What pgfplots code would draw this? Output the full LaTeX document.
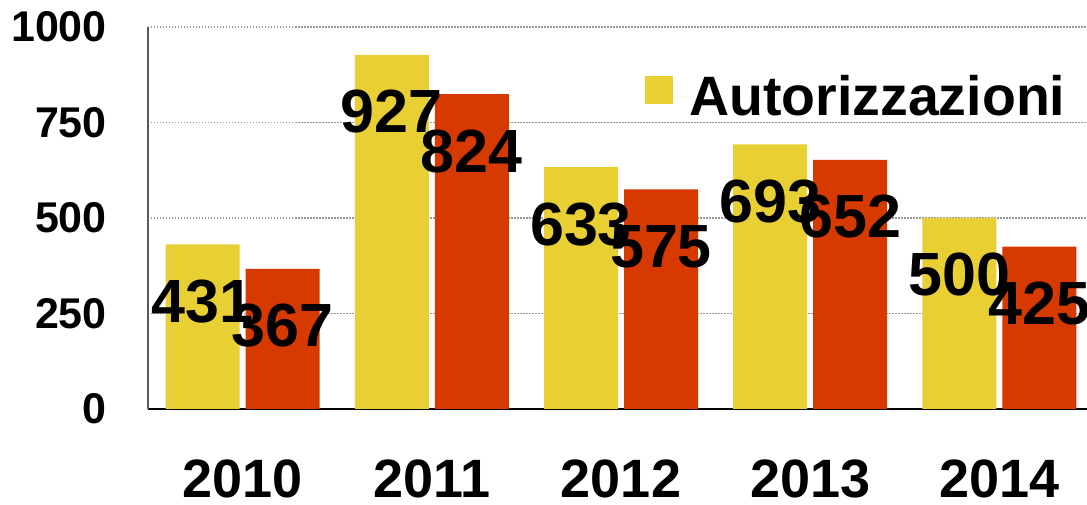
\documentclass[border=0pt]{standalone}
\usepackage{fontspec}
\setmainfont{Liberation Sans}
\usepackage{pgfplots}
\pgfplotsset{compat=1.18}
\definecolor{cyel}{RGB}{232,208,52}
\definecolor{cred}{RGB}{214,58,0}
\begin{document}
\begin{tikzpicture}[x=1pt,y=1pt]
\path[use as bounding box] (-148,-96) rectangle (939,409);
\begin{axis}[
  at={(0,0)}, anchor=south west,
  scale only axis, width=946pt, height=382pt,
  clip=false,
  ybar=6pt, bar width=74pt,
  xmin=-0.5, xmax=4.5, ymin=0, ymax=1000,
  xtick={0,1,2,3,4}, xticklabels={2010,2011,2012,2013,2014},
  ytick={0,250,500,750,1000},
  /pgf/number format/1000 sep={},
  major tick length=0pt,
  axis x line*=bottom, axis y line*=left,
  x axis line style={-, black, line width=1.5pt},
  y axis line style={-, black!65, line width=1.5pt},
  ymajorgrids,
  major grid style={black!40, line width=1.2pt, dash pattern=on 1.5pt off 1.5pt},
  /pgf/number format/assume math mode=true,
  yticklabel style={font=\fontsize{43}{43}\selectfont\bfseries, anchor=east, inner sep=0pt, xshift=-41pt},
  xticklabel style={font=\fontsize{54}{54}\selectfont\bfseries, anchor=north, inner sep=0pt, yshift=-51pt},
  nodes near coords,
  nodes near coords style={font=\fontsize{61}{61}\selectfont\bfseries, anchor=center, inner sep=0pt, yshift=-57pt, text=black},
  legend style={at={(0.5254,0.819)}, anchor=west, draw=none, fill=none, inner sep=0pt,
    font=\fontsize{55.5}{55.5}\selectfont\bfseries},
  legend image code/.code={\fill[#1] (0pt,-8pt) rectangle (28pt,20pt); \path (0pt,0pt) -- (42pt,0pt);},
]
\addplot[fill=cyel, draw=none] coordinates {(0,431) (1,927) (2,633) (3,693) (4,500)};
\addlegendentry{Autorizzazioni}
\addplot[fill=cred, draw=none] coordinates {(0,367) (1,824) (2,575) (3,652) (4,425)};
\end{axis}
\end{tikzpicture}
\end{document}
